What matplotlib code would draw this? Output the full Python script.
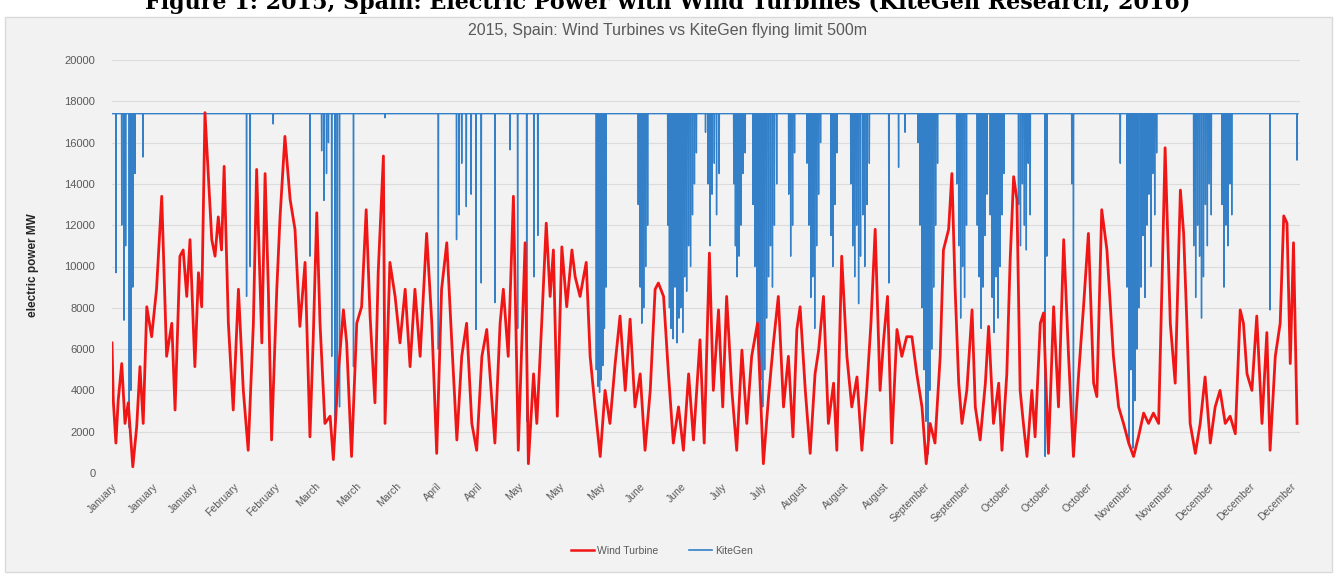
import matplotlib
matplotlib.use('Agg')
import numpy as np
import matplotlib.pyplot as plt
from matplotlib.patches import Rectangle
from matplotlib.lines import Line2D

# wind turbine output (day of year, MW)
wind_day = [0, 0.4, 1.2, 1.9, 3.0, 4.0, 5.0, 6.4, 7.6, 8.6, 9.6, 10.7, 12.2, 13.7, 15.3, 16.8,
            18.4, 19.4, 20.9, 21.9, 23.0, 24.0, 25.5, 26.6, 27.6, 28.6, 29.6, 30.7, 31.7, 32.7,
            33.7, 34.5, 35.8, 37.3, 38.9, 40.4, 41.9, 43.5, 44.5, 46.1, 47.1, 48.1, 49.1, 50.7,
            51.7, 53.2, 54.8, 56.3, 57.8, 59.4, 60.9, 61.9, 63.0, 64.0, 65.5, 67.1, 68.1, 69.6,
            71.2, 72.2, 73.7, 75.3, 76.8, 78.2, 79.4, 80.9, 81.9, 83.5, 84.0, 85.5, 87.1, 88.6,
            90.2, 91.7, 93.2, 94.8, 96.8, 98.4, 99.9, 101.4, 103.0, 104.5, 106.1, 107.6, 109.1,
            110.7, 112.2, 113.8, 115.3, 117.8, 119.4, 120.4, 121.9, 123.5, 125.0, 127.1, 128.1,
            129.7, 130.7, 132.2, 133.6, 134.8, 135.8, 137.0, 138.4, 139.9, 141.5, 142.5, 144.0,
            145.9, 147.1, 148.6, 150.2, 151.7, 153.2, 154.8, 156.3, 157.9, 159.4, 160.9, 162.5,
            164.0, 165.6, 167.1, 168.1, 169.7, 171.2, 172.7, 174.3, 175.8, 177.4, 178.9, 180.9,
            182.2, 183.8, 185.0, 186.6, 187.9, 189.1, 190.7, 192.2, 193.8, 195.3, 196.8, 198.6,
            200.4, 202.0, 203.5, 205.0, 206.6, 208.1, 209.5, 210.7, 211.7, 213.3, 214.8, 216.3,
            217.4, 218.9, 220.4, 222.0, 223.0, 224.5, 226.1, 227.6, 229.2, 230.7, 232.2, 233.5,
            234.8, 236.3, 237.4, 238.6, 239.9, 241.5, 243.0, 244.5, 246.1, 247.6, 249.2, 250.5,
            251.7, 253.2, 254.8, 255.8, 257.4, 258.4, 259.4, 260.5, 261.5, 263.0, 264.6, 265.6,
            267.1, 268.7, 269.7, 271.2, 272.8, 273.8, 275.3, 276.3, 277.4, 278.4, 279.4, 280.4,
            281.5, 283.0, 284.0, 285.6, 286.6, 288.1, 289.7, 291.2, 292.8, 294.3, 295.8, 297.4,
            298.9, 300.4, 302.0, 303.0, 304.5, 306.1, 308.1, 309.7, 311.2, 312.8, 314.3, 315.8,
            317.4, 318.9, 320.4, 322.0, 323.0, 324.0, 325.6, 327.1, 328.7, 329.7, 330.7, 331.7,
            333.3, 334.8, 336.3, 337.9, 339.4, 340.9, 342.5, 344.0, 345.6, 347.1, 348.1, 349.2,
            350.7, 352.2, 353.8, 355.3, 356.3, 357.9, 359.4, 360.5, 361.5, 362.5, 363.5, 364.6]
wind_mw = [6300, 3500, 1450, 3500, 5300, 2400, 3400, 300, 2250, 5150, 2400, 8050, 6600, 8900, 13400, 5650,
           7250, 3050, 10500, 10800, 8550, 11300, 5150, 9700, 8050, 17450, 14500, 11300, 10500, 12400,
           10800, 14850, 7250, 3050, 8900, 4000, 1100, 7250, 14700, 6300, 14500, 8900, 1600, 8900,
           12400, 16300, 13250, 11800, 7100, 10200, 1750, 6450, 12600, 7250, 2400, 2750, 650, 4800,
           7900, 6300, 800, 7250, 8050, 12750, 7600, 3400, 9700, 15350, 2400, 10200, 8550, 6300,
           8900, 5150, 8900, 5650, 11600, 7250, 950, 8900, 11150, 6450, 1600, 5650, 7250,
           2400, 1100, 5650, 6950, 1450, 7250, 8900, 5650, 13400, 1100, 11150, 450,
           4800, 2400, 7250, 12100, 8550, 10800, 2750, 10950, 8050, 10800, 9500, 8550,
           10200, 5650, 3200, 800, 4000, 2400, 5300, 7600, 4000, 7450, 3200, 4800,
           1100, 4000, 8900, 9200, 8550, 4800, 1450, 3200, 1100, 4800, 1600, 6450,
           1450, 10650, 4000, 7900, 3200, 8550, 4000, 1100, 5950, 2400, 5650, 7250,
           450, 3700, 6300, 8550, 3200, 5650, 1750, 6950, 8050, 4000, 950, 4800,
           5950, 8550, 2400, 4350, 1100, 10500, 5650, 3200, 4650, 1100, 4000, 7250,
           11800, 4000, 6450, 8550, 1450, 6950, 5650, 6600, 6600, 4800, 3200, 450,
           2400, 1450, 5650, 10800, 11800, 14500, 8900, 4350, 2400, 4000, 7900, 3200,
           1600, 4350, 7100, 2400, 4350, 1100, 4800, 10200, 14350, 13250, 4000, 2400,
           800, 4000, 1750, 7250, 7750, 950, 8050, 3200, 11300, 5650, 800, 4800,
           8050, 11600, 4350, 3700, 12750, 10800, 5650, 3200, 2400, 1450, 800, 1750,
           2900, 2400, 2900, 2400, 8900, 15750, 7250, 4350, 13700, 11600, 7250, 2400,
           950, 2400, 4650, 1450, 3200, 4000, 2400, 2750, 1900, 7900, 7250, 4800,
           4000, 7600, 2400, 6800, 1100, 5650, 7250, 12450, 12100, 5300, 11150, 2400]

# KiteGen output: flat at the flying-limit cap, with the dips
kite_cap = 17400
kite_dip_day = [1.2, 3.0, 3.7, 4.2, 5.3, 5.8, 6.4, 7.1, 9.5,
                41.4, 42.5, 49.6, 60.9, 64.5, 65.2, 66.0, 66.6, 67.6, 68.6, 69.3, 70.0, 74.3, 84.0,
                100.4, 106.0, 106.8, 107.6, 109.0, 110.5, 112.0, 113.6, 117.8, 122.5,
                124.8, 127.6, 129.8, 131.0,
                149.0, 149.5, 150.0, 150.5, 151.0, 151.5, 152.0,
                161.9, 162.5, 163.0, 163.6, 164.2, 164.8,
                171.0, 171.5, 172.0, 172.6, 173.2, 173.8, 174.4, 175.0, 175.6, 176.2, 176.8,
                177.4, 178.0, 178.6, 179.2, 179.8,
                182.6, 183.4, 184.0, 184.6, 185.3, 186.0, 186.8,
                191.3, 191.8, 192.3, 192.9, 193.5, 194.1, 194.8,
                197.2, 197.8, 198.4, 199.0, 199.6, 200.2, 200.8, 201.4, 202.0, 202.6, 203.2,
                203.8, 204.5,
                208.2, 208.8, 209.4, 210.0,
                213.8, 214.4, 215.0, 215.6, 216.2, 216.8, 217.4, 218.0,
                221.2, 221.8, 222.4, 223.0,
                227.3, 227.9, 228.5, 229.1, 229.7, 230.3, 231.0, 231.6, 232.3, 233.0,
                239.0, 242.0, 244.0,
                248.0, 248.6, 249.2, 249.8, 250.4, 251.0, 251.6, 252.2, 252.8, 253.4, 254.0,
                259.9, 260.5, 261.1, 261.7, 262.3, 262.9,
                266.2, 266.8, 267.4, 268.0, 268.6, 269.2,
                270.2, 270.8, 271.4, 272.0, 272.6, 273.2, 273.8, 274.4,
                278.9, 279.5, 280.1, 280.7, 281.3, 281.9, 282.5,
                287.1, 287.6, 295.3, 295.8, 310.2,
                312.3, 312.9, 313.5, 314.1, 314.7, 315.3, 315.9,
                316.6, 317.2, 317.8, 318.4, 319.0, 319.6, 320.2, 320.8, 321.4,
                332.8, 333.4, 334.0, 334.6, 335.2, 335.8, 336.4, 337.0, 337.6, 338.2,
                341.5, 342.1, 342.7, 343.3, 343.9, 344.5,
                356.3, 364.6]
kite_dip_mw = [9700, 12000, 7400, 11000, 2200, 4000, 9000, 14500, 15300,
               8550, 10000, 16900, 10500, 15600, 13200, 14500, 16000, 5650, 2400, 4000, 3200, 5150, 17200,
               6000, 11300, 12500, 15000, 12900, 13500, 6950, 9200, 8250, 15650,
               7000, 2500, 9500, 11500,
               5000, 4200, 3900, 4500, 5200, 7000, 9000,
               13000, 9000, 7250, 8000, 10000, 12000,
               12000, 8000, 7000, 6500, 9000, 6300, 7500, 8000, 6800, 9500, 8800,
               11000, 10000, 12500, 14000, 15500,
               16500, 14000, 11000, 13500, 15000, 12500, 14500,
               14000, 11000, 9500, 10500, 12000, 14500, 15500,
               13000, 10000, 7000, 5500, 4500, 3200, 5000, 7500, 9500, 11000, 9000,
               12000, 14000,
               13500, 10500, 12000, 15500,
               15000, 12000, 8500, 9500, 7000, 11000, 13500, 16000,
               11500, 10000, 13000, 15500,
               14000, 11000, 9500, 12000, 8200, 10500, 12500, 10000, 13000, 15000,
               9200, 14800, 16500,
               16000, 12000, 8000, 5000, 2500, 900, 4000, 6000, 9000, 12000, 15000,
               14000, 11000, 7500, 10000, 8500, 12000,
               12000, 9500, 7000, 9000, 11500, 13500,
               12500, 8500, 6800, 9500, 7500, 10000, 12500, 14500,
               13000, 11000, 14000, 12000, 10800, 15000, 12500,
               800, 10500, 14000, 800, 15000,
               9000, 1500, 5000, 1200, 3500, 6000, 8000,
               9000, 11500, 8500, 12000, 13500, 10000, 14500, 12500, 15500,
               11000, 8500, 12000, 10500, 7500, 9500, 13000, 11000, 14000, 12500,
               13000, 9000, 12000, 11000, 14000, 12500,
               7900, 15150]
kite_last_day = 364.9

month_labels = ['January', 'January', 'January', 'February', 'February', 'March', 'March', 'March',
                'April', 'April', 'May', 'May', 'May', 'June', 'June', 'July', 'July',
                'August', 'August', 'August', 'September', 'September', 'October', 'October',
                'October', 'November', 'November', 'December', 'December', 'December']
label_every_days = 12.5   # one category label every 300 hours

W, H = 1336, 576
grey = '#595959'
red = '#f01616'
blue = '#3380c8'


def kite_line(cap, dip_day, dip_mw, last_day, half=0.07):
    xs, ys = [0.0], [cap]
    for d, v in zip(dip_day, dip_mw):
        xs += [d - half, d, d + half]
        ys += [cap, v, cap]
    xs.append(last_day)
    ys.append(cap)
    return xs, ys


fig = plt.figure(figsize=(W / 100, H / 100), dpi=100)
fig.patch.set_facecolor('white')

# chart area box (behind the axes)
fig.patches.append(Rectangle((5 / W, 1 - 572 / H), 1327 / W, 555 / H, transform=fig.transFigure,
                             facecolor='#f2f2f2', edgecolor='#d9d9d9', lw=1, zorder=-5))

# page caption, cut off at the top of the picture as in the source
fig.text(668 / W, 1 - 9 / H, 'Figure 1: 2015, Spain: Electric Power with Wind Turbines (KiteGen Research, 2016)',
         ha='center', va='baseline', fontsize=16, fontweight='bold', family='DejaVu Serif', color='black')

fig.text(668 / W, 1 - 30 / H, '2015, Spain: Wind Turbines vs KiteGen flying limit 500m',
         ha='center', va='center', fontsize=11.5, color=grey, family='Liberation Sans')

ax = fig.add_axes([112 / W, 1 - 473 / H, 1188 / W, 413 / H], zorder=1)
ax.patch.set_alpha(0)

kx, ky = kite_line(kite_cap, kite_dip_day, kite_dip_mw, kite_last_day)
ax.plot(kx, ky, color=blue, lw=1.0, zorder=2)
ax.plot(wind_day, wind_mw, color=red, lw=2.0, zorder=3)

ax.set_xlim(0, 365.5)
ax.set_ylim(0, 20000)
ax.set_yticks(range(0, 20001, 2000))
ax.set_xticks(np.arange(len(month_labels)) * label_every_days)
ax.set_xticklabels(month_labels)
for lab in ax.get_xticklabels():
    lab.set_rotation(45)
    lab.set_ha('right')
    lab.set_rotation_mode('anchor')
ax.tick_params(axis='x', length=0, pad=6, labelsize=7.5, labelcolor=grey)
ax.tick_params(axis='y', length=0, pad=12, labelsize=8, labelcolor=grey)
for lab in ax.get_xticklabels() + ax.get_yticklabels():
    lab.set_family('Liberation Sans')
ax.grid(axis='y', color='#dcdcdc', lw=0.8)
ax.set_axisbelow(True)
for s in ax.spines.values():
    s.set_visible(False)

fig.text(33 / W, 1 - 265 / H, 'electric power MW', rotation=90, ha='center', va='center',
         fontsize=8.5, fontweight='bold', color='#262626', family='Liberation Sans')

handles = [Line2D([], [], color=red, lw=1.8), Line2D([], [], color=blue, lw=1.2)]
fig.legend(handles, ['Wind Turbine', 'KiteGen'], loc='center', bbox_to_anchor=(662 / W, 1 - 551 / H),
           ncol=2, frameon=False, labelcolor=grey, handlelength=2.2,
           columnspacing=3, handletextpad=0.3, prop={'family': 'Liberation Sans', 'size': 7.5})

fig.savefig('out.png', dpi=100)
